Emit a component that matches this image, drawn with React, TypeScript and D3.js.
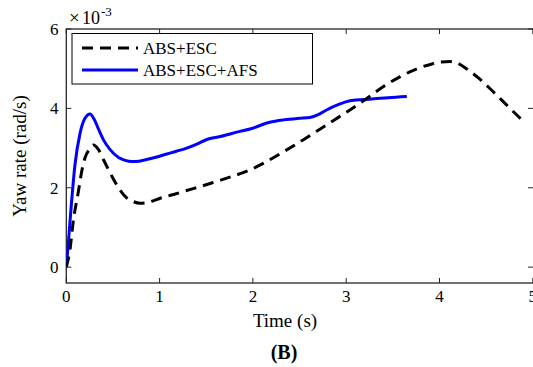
import React from "react";
import * as d3 from "d3";

const W = 533;
const H = 367;

const xTicks = [0, 1, 2, 3, 4, 5];
const yTicks = [0, 2, 4, 6];

// ABS+ESC (dashed black), yaw rate in 1e-3 rad/s
const escT = [0, 0.04, 0.075, 0.13, 0.165, 0.2, 0.25, 0.29, 0.34, 0.4, 0.5, 0.58, 0.65, 0.72, 0.79, 0.86, 0.93, 1.0, 1.15, 1.29, 1.45, 1.61, 1.77, 1.93, 2.1, 2.33, 2.5, 2.68, 2.86, 3.04, 3.22, 3.4, 3.58, 3.76, 3.92, 4.02, 4.11, 4.2, 4.29, 4.42, 4.54, 4.67, 4.79, 4.92];
const escV = [0, 0.45, 1.16, 1.91, 2.41, 2.75, 2.98, 3.08, 2.98, 2.7, 2.24, 1.93, 1.74, 1.65, 1.61, 1.62, 1.67, 1.73, 1.83, 1.93, 2.04, 2.16, 2.28, 2.41, 2.6, 2.91, 3.15, 3.42, 3.69, 3.96, 4.25, 4.55, 4.8, 5.0, 5.12, 5.17, 5.18, 5.13, 5.0, 4.76, 4.5, 4.2, 3.92, 3.63];

// ABS+ESC+AFS (solid blue)
const afsT = [0, 0.02, 0.04, 0.093, 0.147, 0.2, 0.254, 0.3, 0.35, 0.4, 0.47, 0.56, 0.63, 0.7, 0.78, 0.86, 0.96, 1.076, 1.18, 1.29, 1.4, 1.5, 1.65, 1.86, 1.97, 2.18, 2.33, 2.5, 2.61, 2.7, 2.79, 2.92, 3.04, 3.15, 3.25, 3.45, 3.65];
const afsV = [0, 0.55, 1.16, 2.58, 3.37, 3.75, 3.86, 3.72, 3.45, 3.2, 2.96, 2.76, 2.69, 2.66, 2.67, 2.71, 2.77, 2.85, 2.92, 3.0, 3.1, 3.21, 3.29, 3.42, 3.48, 3.65, 3.71, 3.75, 3.77, 3.84, 3.96, 4.1, 4.19, 4.22, 4.23, 4.27, 4.3];

const seriesNames = ["ABS+ESC", "ABS+ESC+AFS"];

const FONT = "'Liberation Serif', 'Times New Roman', serif";

export default function App() {
  const left = 66.3;
  const right = 533;
  const top = 29;
  const bottom = 283;
  const x = d3.scaleLinear().domain([0, 5]).range([left, left + 93.3 * 5]);
  const y = d3.scaleLinear().domain([-0.4, 6]).range([bottom, top]);

  const line = d3
    .line<[number, number]>()
    .x((d) => x(d[0]))
    .y((d) => y(d[1]))
    .curve(d3.curveMonotoneX);

  const escPts: [number, number][] = escT.map((t, i) => [t, escV[i]]);
  const afsPts: [number, number][] = afsT.map((t, i) => [t, afsV[i]]);

  const tl = 5;

  return (
    <svg
      width={W}
      height={H}
      style={{ position: "absolute", left: 0, top: 0, background: "#fff" }}
      fontFamily={FONT}
    >
      <defs>
        <clipPath id="plotClip">
          <rect x={left} y={top} width={right - left} height={bottom - top} />
        </clipPath>
      </defs>

      {/* frame */}
      <rect x={left} y={top} width={right - left + 2} height={bottom - top} fill="none" stroke="#262626" strokeWidth={1.3} />

      {/* x ticks */}
      {xTicks.map((t) => (
        <g key={"xt" + t}>
          <line x1={x(t)} x2={x(t)} y1={bottom} y2={bottom - tl} stroke="#262626" strokeWidth={1} />
          <line x1={x(t)} x2={x(t)} y1={top} y2={top + tl} stroke="#262626" strokeWidth={1} />
          <text x={x(t)} y={301.5} fontSize={17} textAnchor="middle" fill="#000">
            {t}
          </text>
        </g>
      ))}

      {/* y ticks */}
      {yTicks.map((v) => (
        <g key={"yt" + v}>
          <line x1={left} x2={left + tl} y1={y(v)} y2={y(v)} stroke="#262626" strokeWidth={1} />
          <line x1={right - tl} x2={right} y1={y(v)} y2={y(v)} stroke="#262626" strokeWidth={1} />
          <text x={58.5} y={y(v) + 6} fontSize={17} textAnchor="end" fill="#000">
            {v}
          </text>
        </g>
      ))}

      {/* exponent */}
      <text x={69} y={23.5} fontSize={19} fill="#000">×</text>
      <text x={82} y={23.5} fontSize={18} fill="#000">10</text>
      <text x={101} y={16} fontSize={13} fill="#000">-3</text>

      {/* curves */}
      <g clipPath="url(#plotClip)">
        <path d={line(afsPts) || ""} fill="none" stroke="#0000ff" strokeWidth={3} strokeLinejoin="round" />
        <path d={line(escPts) || ""} fill="none" stroke="#000" strokeWidth={3} strokeDasharray="11,7" />
      </g>

      {/* legend */}
      <rect x={72} y={33.5} width={240.5} height={50.5} fill="#fff" stroke="#000" strokeWidth={1} />
      <line x1={82} x2={138} y1={48} y2={48} stroke="#000" strokeWidth={3} strokeDasharray="11,7" />
      <text x={143} y={54} fontSize={17} fill="#000">{seriesNames[0]}</text>
      <line x1={82} x2={138} y1={70} y2={70} stroke="#0000ff" strokeWidth={3} />
      <text x={143} y={76} fontSize={17} fill="#000">{seriesNames[1]}</text>

      {/* axis labels */}
      <text x={285} y={326.5} fontSize={19} textAnchor="middle" fill="#000">
        Time (s)
      </text>
      <text
        transform={`translate(25.5, ${(top + bottom) / 2}) rotate(-90)`}
        fontSize={19}
        textAnchor="middle"
        fill="#000"
      >
        Yaw rate (rad/s)
      </text>
      <text x={284} y={358.5} fontSize={20} fontWeight="bold" textAnchor="middle" fill="#000">
        (B)
      </text>
    </svg>
  );
}
